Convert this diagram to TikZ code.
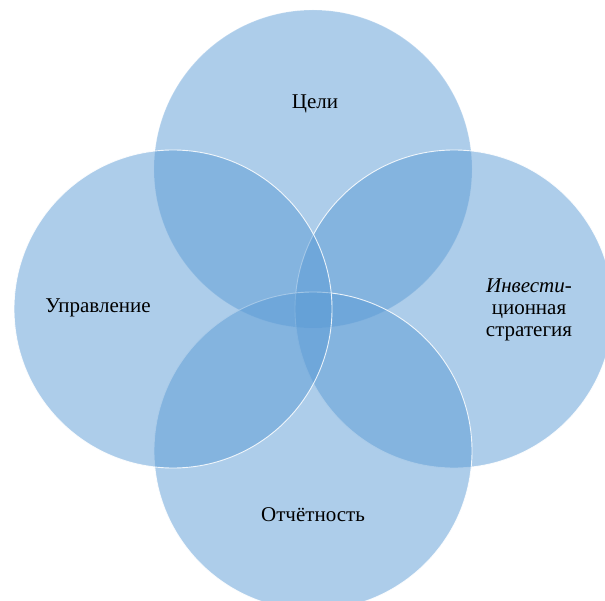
\documentclass[tikz,border=0pt]{standalone}
\usepackage{fontspec}
\setmainfont{Liberation Serif}
\definecolor{petal}{RGB}{91,155,213}
\begin{document}
\begin{tikzpicture}[x=1pt,y=-1pt,
  petalcircle/.style={circle, minimum size=318pt, inner sep=0pt,
    fill=petal, fill opacity=0.5, draw=white, draw opacity=0.85, line width=0.9pt},
  caption/.style={font=\fontsize{21}{22}\selectfont, text=black, align=center, inner sep=0pt}]
  \useasboundingbox (0,0) rectangle (605,601);
  % four overlapping translucent circles, the first one with a faint rim
  \node[petalcircle, draw opacity=0.2] (top) at (313,169) {};
  \node[petalcircle] (right)  at (454,309) {};
  \node[petalcircle] (bottom) at (313,451) {};
  \node[petalcircle] (left)   at (173,309) {};
  % labels
  \node[caption] (tTop)    at (315,104) {Цели};
  \node[caption] (tLeft)   at (98,308)  {Управление};
  \node[caption] (tRight)  at (529,310) {\textit{Инвести-}\\ционная\\стратегия};
  \node[caption] (tBottom) at (313,515) {Отчётность};
\end{tikzpicture}
\end{document}
